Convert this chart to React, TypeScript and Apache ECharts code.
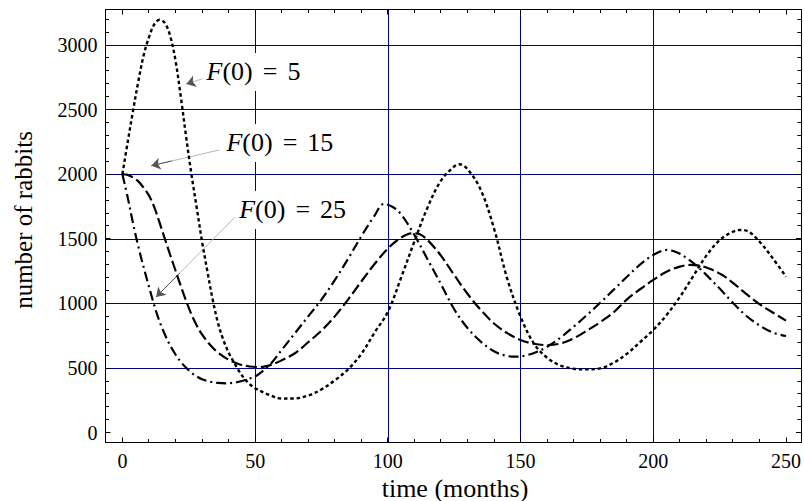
import React, { useEffect, useRef } from 'react';
import * as echarts from 'echarts';

// ---- data ----
const monthsF5 = [0, 2, 4, 6, 8, 10, 12, 14, 16, 18, 20, 22, 24, 26, 28, 30, 32, 34, 36, 38, 40, 42, 44, 46, 48, 50, 55, 60, 65, 70, 75, 80, 85, 90, 95, 100, 105, 110, 115, 120, 125, 127, 130, 135, 140, 145, 150, 155, 160, 165, 170, 175, 180, 185, 190, 195, 200, 205, 210, 215, 220, 225, 230, 233, 236, 240, 245, 250];
const rabbitsF5 = [2000, 2250, 2490, 2720, 2920, 3060, 3160, 3195, 3170, 3070, 2880, 2600, 2290, 2000, 1740, 1480, 1250, 1030, 850, 720, 620, 545, 475, 418, 375, 344, 295, 264, 265, 288, 335, 405, 490, 610, 775, 935, 1200, 1480, 1745, 1950, 2060, 2077, 2040, 1880, 1580, 1190, 898, 690, 580, 520, 495, 490, 498, 540, 610, 700, 795, 910, 1050, 1210, 1370, 1490, 1555, 1569, 1555, 1480, 1350, 1207];

const monthsF15 = [0, 2, 4, 6, 8, 10, 12, 14, 16, 18, 20, 22, 24, 26, 28, 30, 33, 36, 40, 44, 48, 52, 56, 60, 65, 70, 75, 80, 85, 90, 95, 100, 105, 109, 112, 115, 120, 125, 130, 135, 140, 145, 150, 155, 160, 165, 170, 175, 180, 185, 190, 195, 200, 205, 210, 214, 218, 222, 226, 230, 235, 240, 245, 250];
const rabbitsF15 = [2000, 1995, 1975, 1945, 1895, 1835, 1745, 1625, 1500, 1375, 1255, 1135, 1020, 915, 830, 760, 680, 620, 565, 530, 512, 508, 525, 560, 615, 700, 790, 900, 1030, 1170, 1305, 1425, 1510, 1543, 1535, 1490, 1370, 1220, 1075, 950, 845, 770, 717, 688, 678, 690, 730, 790, 855, 930, 1030, 1110, 1182, 1245, 1285, 1298, 1290, 1262, 1220, 1160, 1075, 995, 930, 867];

const monthsF25 = [0, 2, 4, 6, 8, 10, 12, 14, 16, 18, 20, 22, 24, 26, 28, 30, 33, 36, 39, 42, 45, 48, 50, 52, 54, 56, 60, 65, 70, 75, 80, 85, 90, 95, 98.5, 102, 105, 110, 115, 120, 125, 130, 135, 140, 144, 148, 152, 156, 160, 165, 170, 175, 180, 185, 190, 195, 200, 205, 209, 213, 217, 221, 225, 230, 235, 240, 245, 250];
const rabbitsF25 = [2000, 1820, 1620, 1440, 1280, 1130, 985, 860, 760, 675, 605, 548, 502, 465, 435, 414, 395, 385, 382, 387, 400, 420, 435, 463, 498, 535, 640, 770, 900, 1030, 1180, 1345, 1520, 1680, 1770, 1745, 1690, 1530, 1340, 1150, 955, 810, 705, 630, 598, 588, 598, 625, 665, 735, 820, 910, 1005, 1105, 1205, 1300, 1375, 1414, 1395, 1345, 1280, 1200, 1115, 1005, 905, 830, 775, 748];

// ticks, tick labels and grid lines
const xTickLabels = [0, 50, 100, 150, 200, 250];
const yTickLabels = [0, 500, 1000, 1500, 2000, 2500, 3000];
const xTicks = Array.from({ length: 26 }, (_, i) => i * 10);
const yTicks = Array.from({ length: 33 }, (_, i) => i * 100);
const xGridLines = [50, 100, 150, 200];
const yGridLines = [500, 1000, 1500, 2000, 2500, 3000];

// annotation texts and their anchors (in months / rabbits)
const annotationValues = ['5', '15', '25'];
const annotationAnchors = [[30.2, 2792], [37.7, 2242], [42.5, 1724]];
const arrowStarts = [[32.4, 2753], [36.5, 2188], [42.5, 1670]];
const arrowTips = [[24.1, 2699], [10.9, 2066], [12.7, 1050]];

const FONT = 'Liberation Serif';

// plot frame (pixels) and where 0 / 250 months and 0 / 3000 rabbits fall in it
const FRAME = { left: 105.5, right: 804.5, top: 9.5, bottom: 442.5 };
const PX = { x0: 122.5, x250: 789.5, y0: 432.7, y3000: 45 };
const kx = (PX.x250 - PX.x0) / 250;
const ky = (PX.y0 - PX.y3000) / 3000;
const X_MIN = -(PX.x0 - FRAME.left) / kx;
const X_MAX = 250 + (FRAME.right - PX.x250) / kx;
const Y_MIN = -(FRAME.bottom - PX.y0) / ky;
const Y_MAX = 3000 + (PX.y3000 - FRAME.top) / ky;

const pairs = (t: number[], r: number[]) => t.map((m, i) => [m, r[i]]);

const serif = (size: number, extra: Record<string, unknown> = {}) => ({
  fontSize: size, fontFamily: FONT, color: '#000', ...extra,
});

const richLabel = {
  i: serif(26, { fontStyle: 'italic' }),
  r: serif(26),
  eq: serif(26, { padding: [0, 10, 0, 10] }),
};

function annotation(k: number, withGrid: boolean) {
  const s = arrowStarts[k];
  const e = arrowTips[k];
  const near = [e[0] + (s[0] - e[0]) * 0.3, e[1] + (s[1] - e[1]) * 0.3];
  const grid = withGrid
    ? [
        ...xGridLines.map((v) => ({ xAxis: v })),
        ...yGridLines.map((v) => ({ yAxis: v })),
      ]
    : [];
  return {
    markPoint: {
      silent: true,
      symbol: 'circle',
      symbolSize: 0,
      itemStyle: { color: 'rgba(0,0,0,0)' },
      data: [{ coord: annotationAnchors[k] }],
      label: {
        show: true,
        position: 'right',
        distance: 0,
        formatter: `{i|F}{r|(0)}{eq|=}{r|${annotationValues[k]}}`,
        color: '#000',
        fontSize: 26,
        fontFamily: FONT,
        backgroundColor: '#fff',
        padding: [6, 4, 6, 4],
        rich: richLabel,
      },
    },
    markLine: {
      silent: true,
      z: 1,
      label: { show: false },
      symbol: ['none', 'none'],
      symbolSize: 9,
      lineStyle: { type: 'solid', width: 1, color: '#000080' },
      data: [
        ...grid,
        [
          { coord: s, symbol: 'none', lineStyle: { color: '#b8b8b8', type: 'solid', width: 1 } },
          { coord: e, symbol: 'none' },
        ],
        [
          { coord: near, symbol: 'none', lineStyle: { color: '#555', type: 'solid', width: 1 } },
          { coord: e, symbol: 'arrow' },
        ],
      ],
    },
  };
}

function frameAxis(kind: 'x' | 'y', position: string, labels: number[] | null) {
  return {
    type: 'value',
    position,
    min: kind === 'x' ? X_MIN : Y_MIN,
    max: kind === 'x' ? X_MAX : Y_MAX,
    axisLine: { show: true, onZero: false, lineStyle: { color: '#000', width: 1 } },
    axisTick: { show: false },
    minorTick: { show: false },
    axisLabel: labels
      ? {
          show: true, inside: false, customValues: labels, margin: 8, ...serif(20),
          formatter: (v: number) => `{s|${Math.round(v)}}`,
          rich: { s: serif(20) },
        }
      : { show: false },
    splitLine: { show: false },
  };
}

export default function App() {
  const ref = useRef<HTMLDivElement>(null);
  useEffect(() => {
    if (!ref.current) return;
    const chart = echarts.init(ref.current, undefined, { renderer: 'svg' });
    chart.setOption({
      animation: false,
      backgroundColor: '#fff',
      textStyle: { fontFamily: FONT },
      grid: {
        left: FRAME.left, right: 804 - FRAME.right, top: FRAME.top, bottom: 501 - FRAME.bottom,
        show: false, containLabel: false,
      },
      xAxis: [frameAxis('x', 'bottom', xTickLabels), frameAxis('x', 'top', null)],
      yAxis: [frameAxis('y', 'left', yTickLabels), frameAxis('y', 'right', null)],
      series: [
        {
          type: 'line', name: 'F(0) = 5', data: pairs(monthsF5, rabbitsF5),
          showSymbol: false, smooth: 0.35, z: 3,
          lineStyle: { color: '#000', width: 2.4, type: [3.5, 2.8] },
          ...annotation(0, true),
        },
        {
          type: 'line', name: 'F(0) = 15', data: pairs(monthsF15, rabbitsF15),
          showSymbol: false, smooth: 0.35, z: 3,
          lineStyle: { color: '#000', width: 2.2, type: [11, 4] },
          ...annotation(1, false),
        },
        {
          type: 'line', name: 'F(0) = 25', data: pairs(monthsF25, rabbitsF25),
          showSymbol: false, smooth: 0.35, z: 3,
          lineStyle: { color: '#000', width: 2.2, type: [10, 4, 2, 4] },
          ...annotation(2, false),
        },
      ],
    });

    // tick marks on all four sides, placed through the axes' scales
    const toPx = (p: number[]) => chart.convertToPixel({ xAxisIndex: 0, yAxisIndex: 0 }, p) as number[];
    const crisp = (v: number) => Math.floor(v) + 0.5;
    const tickStyle = { stroke: '#000', lineWidth: 1 };
    const ticks: any[] = [];
    xTicks.forEach((v) => {
      const [x, yb] = toPx([v, Y_MIN]);
      const yt = toPx([v, Y_MAX])[1];
      const cx = crisp(x);
      const len = v % 50 === 0 ? 5 : 3.5;
      ticks.push({ type: 'line', silent: true, z: 20, shape: { x1: cx, y1: yb, x2: cx, y2: yb - len }, style: tickStyle });
      ticks.push({ type: 'line', silent: true, z: 20, shape: { x1: cx, y1: yt, x2: cx, y2: yt + len }, style: tickStyle });
    });
    yTicks.forEach((v) => {
      const [xl, y] = toPx([X_MIN, v]);
      const xr = toPx([X_MAX, v])[0];
      const cy = crisp(y);
      const len = v % 500 === 0 ? 5 : 3.5;
      ticks.push({ type: 'line', silent: true, z: 20, shape: { x1: xl, y1: cy, x2: xl + len, y2: cy }, style: tickStyle });
      ticks.push({ type: 'line', silent: true, z: 20, shape: { x1: xr, y1: cy, x2: xr - len, y2: cy }, style: tickStyle });
    });

    chart.setOption({
      graphic: {
        elements: [
          {
            type: 'text', x: 455, y: 488, silent: true,
            style: { text: 'time (months)', fontSize: 26, fontFamily: FONT, fill: '#000', align: 'center', verticalAlign: 'middle' },
          },
          {
            type: 'text', x: 23.5, y: 220, rotation: Math.PI / 2, silent: true,
            style: { text: 'number of rabbits', fontSize: 25, fontFamily: FONT, fill: '#000', align: 'center', verticalAlign: 'middle' },
          },
          ...ticks,
        ],
      },
    });
    return () => chart.dispose();
  }, []);
  return <div ref={ref} style={{ position: 'fixed', left: 0, top: 0, width: 804, height: 501 }} />;
}
